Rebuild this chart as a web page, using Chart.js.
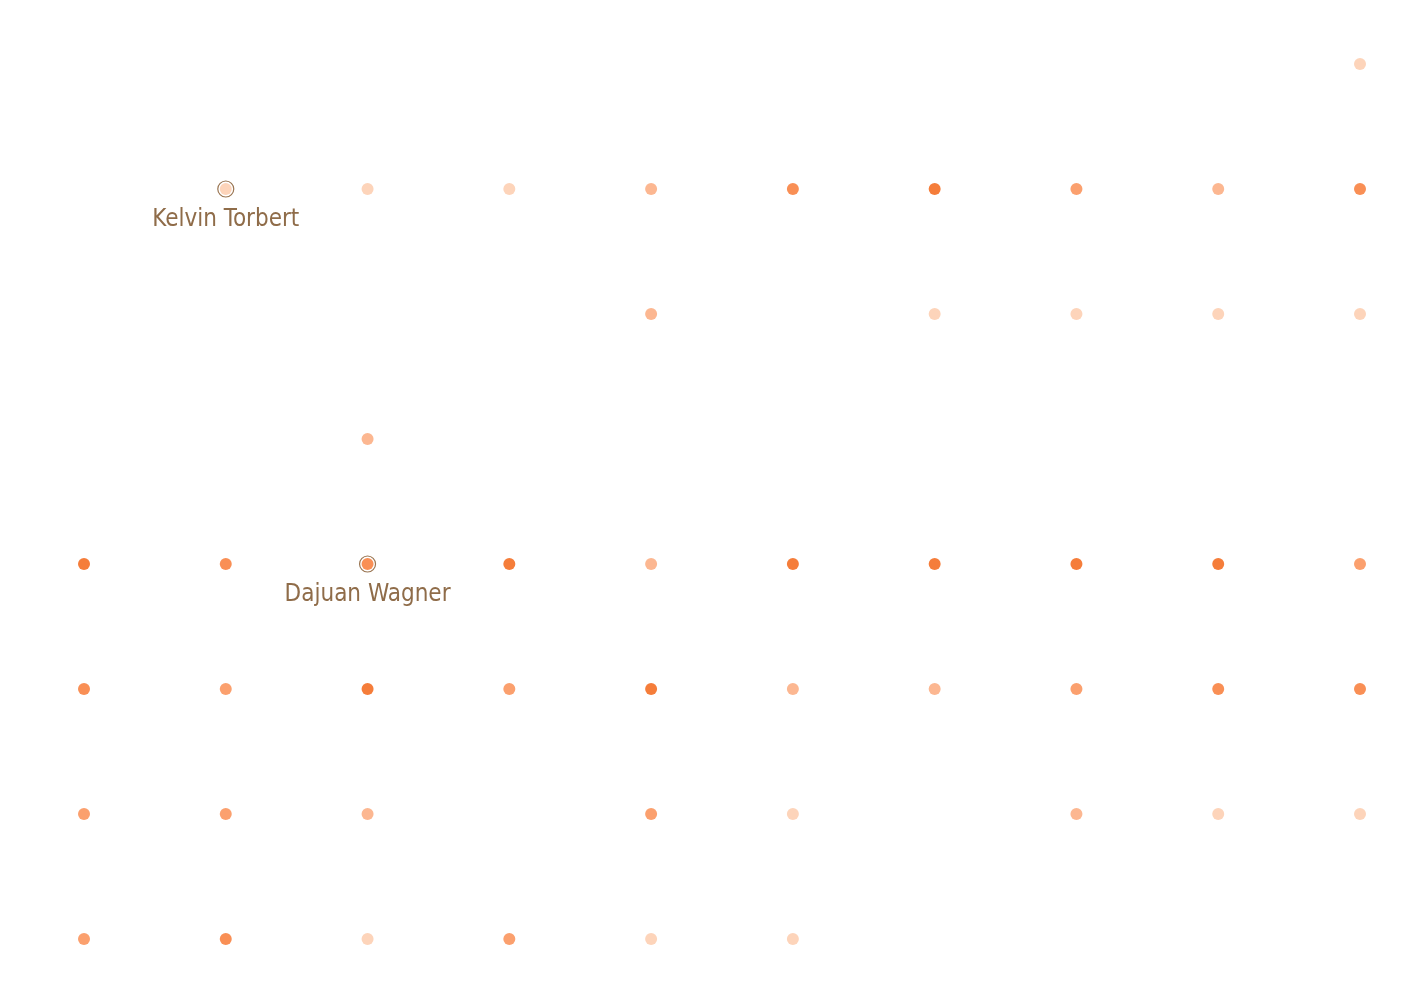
<!DOCTYPE html>
<html>
<head>
<meta charset="utf-8">
<script src="https://cdn.jsdelivr.net/npm/chart.js@4/dist/chart.umd.min.js"></script>
<style>
  html, body { margin: 0; padding: 0; background: #ffffff; }
  #wrap { width: 1408px; height: 1000px; }
</style>
</head>
<body>
<div id="wrap"><canvas id="c" width="1408" height="1000"></canvas></div>
<script>
// Column index (x), row value (y), shade level (1 = lightest .. 5 = darkest)
const xCols = [
  9,
  1,2,3,4,5,6,7,8,9,
  4,6,7,8,9,
  2,
  0,1,2,3,4,5,6,7,8,9,
  0,1,2,3,4,5,6,7,8,9,
  0,1,2,4,5,7,8,9,
  0,1,2,3,4,5
];
const yRows = [
  7,
  6,6,6,6,6,6,6,6,6,
  5,5,5,5,5,
  4,
  3,3,3,3,3,3,3,3,3,3,
  2,2,2,2,2,2,2,2,2,2,
  1,1,1,1,1,1,1,1,
  0,0,0,0,0,0
];
const shades = [
  1,
  1,1,1,2,4,5,3,2,4,
  2,1,1,1,1,
  2,
  5,4,4,5,2,5,5,5,5,3,
  4,3,5,3,5,2,2,3,4,4,
  3,3,2,3,1,2,1,1,
  3,4,1,3,1,1
];
const highlightNames = ["Kelvin Torbert", "Dajuan Wagner"];
const highlightX = [1, 2];
const highlightY = [6, 3];

const palette = ["#fdd4ba", "#fcb791", "#fba06e", "#f98f55", "#f57d3a"];

const points = xCols.map((x, i) => ({ x: x, y: yRows[i] }));
const colors = shades.map(s => palette[s - 1]);

const annotate = {
  id: 'annotate',
  afterDatasetsDraw(chart) {
    const ctx = chart.ctx;
    const xs = chart.scales.x, ys = chart.scales.y;
    ctx.save();
    highlightNames.forEach((name, i) => {
      const px = xs.getPixelForValue(highlightX[i]);
      const py = ys.getPixelForValue(highlightY[i]);
      ctx.beginPath();
      ctx.arc(px, py, 8, 0, Math.PI * 2);
      ctx.lineWidth = 1.2;
      ctx.strokeStyle = '#9a7552';
      ctx.stroke();
      ctx.fillStyle = '#8f6c49';
      ctx.font = '24px "Liberation Sans Narrow", "Arial Narrow", "DejaVu Sans Condensed", sans-serif';
      ctx.textAlign = 'center';
      ctx.textBaseline = 'alphabetic';
      ctx.fillText(name, px, py + 37);
    });
    ctx.restore();
  }
};

new Chart(document.getElementById('c'), {
  type: 'scatter',
  data: {
    datasets: [{
      data: points,
      backgroundColor: colors,
      borderWidth: 0,
      pointRadius: 6,
      pointHoverRadius: 6,
      clip: false
    }]
  },
  options: {
    responsive: false,
    animation: false,
    devicePixelRatio: 1,
    layout: { padding: { left: 84, right: 48, top: 64, bottom: 61 } },
    plugins: { legend: { display: false }, tooltip: { enabled: false } },
    scales: {
      x: { type: 'linear', min: 0, max: 9, display: false },
      y: { type: 'linear', min: 0, max: 7, display: false }
    }
  },
  plugins: [annotate]
});
</script>
</body>
</html>
